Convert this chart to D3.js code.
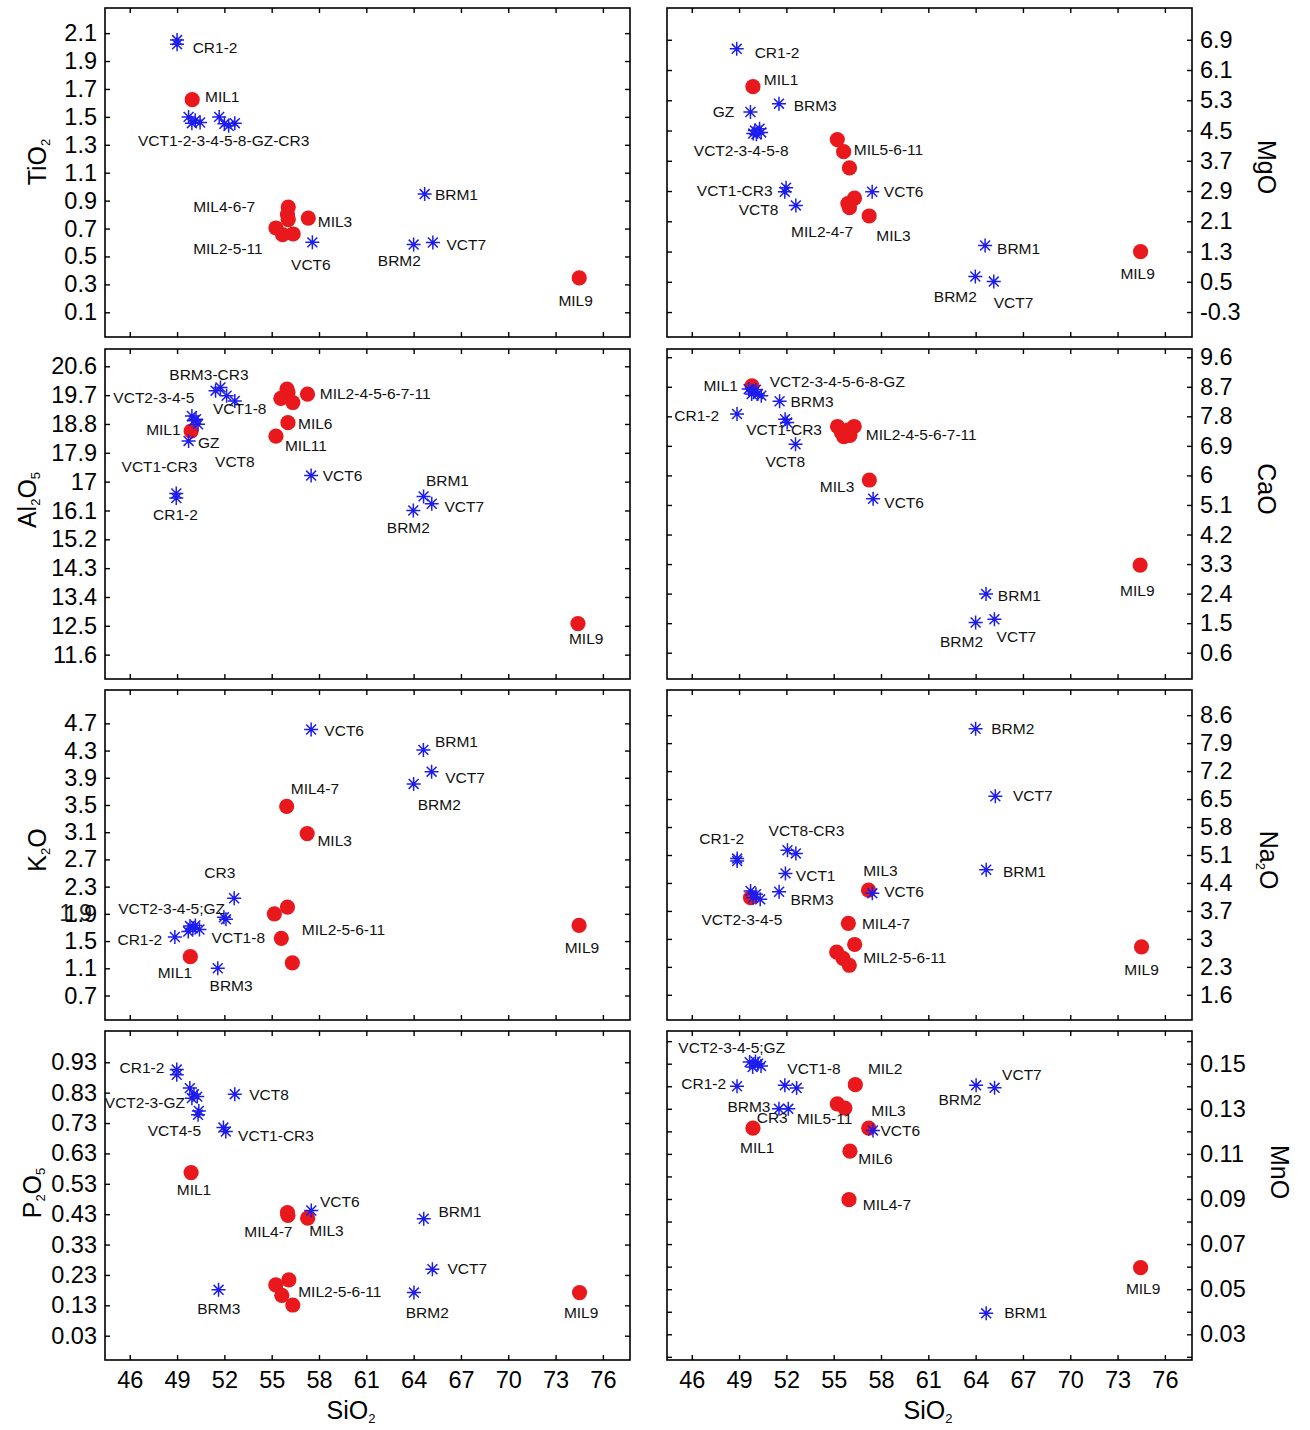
<!DOCTYPE html>
<html><head><meta charset="utf-8">
<script src="https://cdn.jsdelivr.net/npm/d3@7"></script>
<style>
body{margin:0;background:#fff}
svg{display:block}
text{font-family:"Liberation Sans",Arial,Helvetica,sans-serif}
</style>
</head><body>
<svg id="chart" width="1310" height="1430"></svg>
<script>
// ---------- shared x axis (SiO2) ----------
const sio2Domain = [44.43, 77.72];
const sio2Ticks = [46, 49, 52, 55, 58, 61, 64, 67, 70, 73, 76];

// ---------- TiO2 ----------
const tio2Domain = [-0.077, 2.28];
const tio2Ticks = [0.1, 0.3, 0.5, 0.7, 0.9, 1.1, 1.3, 1.5, 1.7, 1.9, 2.1];
const tio2Stars = [[49.0,2.05],[49.0,2.02],[49.73,1.50],[50.15,1.475],[50.46,1.46],[49.94,1.455],[51.67,1.50],[52.0,1.45],[52.66,1.455],[52.27,1.436],[64.7,0.947],[57.58,0.601],[64.0,0.585],[65.22,0.60]];
const tio2Dots = [[49.96,1.623],[56.05,0.854],[56.0,0.80],[56.05,0.764],[57.32,0.775],[55.27,0.704],[55.69,0.656],[56.36,0.661],[74.5,0.346]];
const tio2Labels = [["CR1-2",49.99,1.957],["MIL1",50.77,1.61],["VCT1-2-3-4-5-8-GZ-CR3",46.52,1.289],["BRM1",65.35,0.907],["MIL4-6-7",50.02,0.816],["MIL3",57.92,0.711],["MIL2-5-11",50.02,0.518],["VCT7",66.08,0.549],["BRM2",61.73,0.429],["VCT6",56.23,0.40],["MIL9",73.18,0.148]];

// ---------- MgO ----------
const mgoDomain = [-0.96, 7.74];
const mgoTicks = [-0.3, 0.5, 1.3, 2.1, 2.9, 3.7, 4.5, 5.3, 6.1, 6.9];
const mgoStars = [[48.85,6.66],[49.72,4.99],[51.53,5.21],[50.0,4.50],[50.3,4.55],[50.1,4.40],[49.9,4.42],[50.4,4.45],[51.98,2.99],[51.9,2.88],[52.6,2.52],[57.44,2.88],[64.6,1.46],[63.98,0.64],[65.15,0.505]];
const mgoDots = [[49.88,5.66],[55.23,4.26],[55.63,3.94],[56.0,3.51],[56.32,2.71],[55.9,2.57],[56.0,2.46],[57.25,2.24],[74.46,1.3]];
const mgoLabels = [["CR1-2",49.99,6.43],["MIL1",50.57,5.70],["BRM3",52.46,5.01],["GZ",47.33,4.86],["VCT2-3-4-5-8",46.13,3.82],["MIL5-6-11",56.27,3.84],["VCT1-CR3",46.32,2.77],["VCT6",58.18,2.73],["VCT8",48.98,2.26],["MIL2-4-7",52.3,1.69],["MIL3",57.7,1.57],["BRM1",65.36,1.24],["MIL9",73.18,0.57],["BRM2",61.35,-0.03],["VCT7",65.15,-0.20]];

// ---------- Al2O5 ----------
const al2o5Domain = [10.84, 21.14];
const al2o5Ticks = [11.6, 12.5, 13.4, 14.3, 15.2, 16.1, 17, 17.9, 18.8, 19.7, 20.6];
const al2o5Stars = [[51.75,19.94],[51.44,19.84],[52.14,19.68],[52.66,19.52],[49.94,19.05],[50.2,18.95],[50.33,18.79],[50.07,18.9],[49.73,18.27],[48.95,16.63],[48.95,16.49],[57.5,17.19],[64.63,16.54],[65.15,16.31],[63.98,16.1]];
const al2o5Dots = [[55.97,19.89],[56.03,19.78],[55.58,19.6],[56.34,19.47],[57.27,19.73],[56.03,18.84],[55.27,18.42],[49.89,18.58],[74.42,12.57]];
const al2o5Labels = [["BRM3-CR3",48.51,20.18],["VCT2-3-4-5",44.96,19.45],["MIL2-4-5-6-7-11",58.05,19.57],["VCT1-8",51.28,19.10],["MIL6",56.67,18.65],["MIL1",47.04,18.45],["GZ",50.33,18.06],["MIL11",55.84,17.95],["VCT1-CR3",45.48,17.29],["VCT8",51.41,17.46],["VCT6",58.23,17.01],["BRM1",64.78,16.86],["VCT7",65.95,16.04],["CR1-2",47.48,15.81],["BRM2",62.3,15.41],["MIL9",73.85,11.92]];

// ---------- CaO ----------
const caoDomain = [-0.2, 9.85];
const caoTicks = [0.6, 1.5, 2.4, 3.3, 4.2, 5.1, 6, 6.9, 7.8, 8.7, 9.6];
const caoStars = [[49.61,8.63],[49.93,8.55],[50.19,8.48],[50.41,8.43],[49.8,8.48],[50.06,8.61],[51.57,8.26],[48.87,7.87],[51.92,7.71],[52.05,7.61],[52.58,6.95],[57.5,5.29],[64.66,2.39],[64.0,1.52],[65.19,1.62]];
const caoDots = [[49.82,8.73],[55.24,7.49],[56.3,7.49],[55.64,7.18],[56.03,7.22],[55.9,7.38],[55.5,7.3],[57.26,5.86],[74.43,3.27]];
const caoLabels = [["MIL1",46.74,8.58],["VCT2-3-4-5-6-8-GZ",50.94,8.68],["BRM3",52.26,8.07],["CR1-2",44.89,7.66],["VCT1-CR3",49.45,7.24],["MIL2-4-5-6-7-11",57.04,7.08],["VCT8",50.67,6.27],["MIL3",54.12,5.49],["VCT6",58.21,5.01],["BRM1",65.41,2.19],["MIL9",73.16,2.33],["VCT7",65.33,0.94],["BRM2",61.74,0.76]];

// ---------- K2O ----------
const k2oDomain = [0.34, 5.19];
const k2oTicks = [0.7, 1.1, 1.5, 1.9, 2.3, 2.7, 3.1, 3.5, 3.9, 4.3, 4.7];
const k2oGhostTicks = [1.9];
const k2oStars = [[57.5,4.61],[64.62,4.31],[65.14,3.99],[64.0,3.81],[52.62,2.13],[51.97,1.85],[52.1,1.82],[49.82,1.72],[50.16,1.73],[50.42,1.67],[49.71,1.64],[50.0,1.69],[48.86,1.56],[51.58,1.1]];
const k2oDots = [[55.95,3.48],[57.25,3.08],[56.0,2.0],[55.17,1.9],[55.61,1.54],[56.31,1.18],[49.84,1.27],[74.49,1.73]];
const k2oLabels = [["VCT6",58.34,4.51],["BRM1",65.35,4.35],["VCT7",66.0,3.83],["MIL4-7",56.21,3.66],["BRM2",64.26,3.43],["MIL3",57.9,2.89],["CR3",50.73,2.42],["VCT2-3-4-5;GZ",45.27,1.90],["MIL2-5-6-11",56.91,1.59],["CR1-2",45.22,1.44],["VCT1-8",51.19,1.47],["MIL1",47.77,0.95],["BRM3",51.06,0.77],["MIL9",73.58,1.33]];

// ---------- Na2O ----------
const na2oDomain = [0.97, 9.23];
const na2oTicks = [1.6, 2.3, 3, 3.7, 4.4, 5.1, 5.8, 6.5, 7.2, 7.9, 8.6];
const na2oStars = [[64.0,8.26],[65.25,6.57],[64.67,4.73],[48.88,5.01],[48.88,4.95],[52.07,5.22],[52.6,5.14],[51.94,4.64],[51.54,4.18],[49.73,4.2],[50.07,4.12],[50.34,3.99],[49.89,4.03],[57.45,4.14]];
const na2oDots = [[57.21,4.22],[49.73,4.03],[55.93,3.39],[56.33,2.86],[55.19,2.67],[55.59,2.51],[55.99,2.34],[74.52,2.8]];
const na2oLabels = [["BRM2",64.99,8.12],["VCT7",66.37,6.45],["CR1-2",46.48,5.37],["VCT8-CR3",50.87,5.57],["VCT1",52.6,4.45],["BRM1",65.73,4.55],["MIL3",56.87,4.58],["VCT6",58.2,4.05],["BRM3",52.26,3.85],["VCT2-3-4-5",46.61,3.34],["MIL4-7",56.79,3.24],["MIL2-5-6-11",56.87,2.40],["MIL9",73.43,2.09]];

// ---------- P2O5 ----------
const p2o5Domain = [-0.05, 1.033];
const p2o5Ticks = [0.03, 0.13, 0.23, 0.33, 0.43, 0.53, 0.63, 0.73, 0.83, 0.93];
const p2o5Stars = [[48.98,0.906],[48.98,0.889],[49.81,0.845],[50.07,0.825],[50.28,0.817],[49.94,0.812],[50.38,0.77],[50.33,0.757],[52.66,0.825],[51.94,0.715],[52.09,0.702],[57.51,0.442],[64.64,0.415],[65.19,0.249],[51.63,0.181],[64.02,0.172]];
const p2o5Dots = [[49.89,0.567],[56.03,0.426],[56.0,0.435],[57.28,0.417],[56.09,0.214],[55.26,0.197],[55.64,0.163],[56.34,0.131],[74.52,0.172]];
const p2o5Labels = [["CR1-2",45.35,0.895],["VCT2-3-GZ",44.42,0.781],["VCT8",53.57,0.806],["VCT4-5",47.14,0.688],["VCT1-CR3",52.87,0.671],["MIL1",48.98,0.494],["VCT6",58.06,0.453],["BRM1",65.57,0.42],["MIL4-7",53.26,0.354],["MIL3",57.38,0.359],["VCT7",66.14,0.232],["MIL2-5-6-11",56.68,0.158],["BRM3",50.28,0.103],["BRM2",63.5,0.089],["MIL9",73.53,0.089]];

// ---------- MnO ----------
const mnoDomain = [0.0186, 0.1645];
const mnoTicks = [0.02, 0.03, 0.04, 0.05, 0.06, 0.07, 0.08, 0.09, 0.10, 0.11, 0.12, 0.13, 0.14, 0.15, 0.16];
const mnoTickLabels = [0.03, 0.05, 0.07, 0.09, 0.11, 0.13, 0.15];
const mnoStars = [[49.67,0.1507],[50.04,0.151],[50.39,0.149],[49.86,0.1485],[50.2,0.15],[48.87,0.14],[51.9,0.1404],[52.65,0.1392],[51.53,0.13],[52.12,0.13],[57.49,0.1204],[64.03,0.1404],[65.2,0.1393],[64.67,0.0393]];
const mnoDots = [[56.37,0.1407],[55.23,0.1322],[55.71,0.1303],[57.22,0.1214],[49.88,0.1214],[56.03,0.1112],[55.97,0.0897],[74.46,0.0596]];
const mnoLabels = [["VCT2-3-4-5;GZ",45.15,0.1547],["VCT1-8",52.06,0.1456],["MIL2",57.17,0.1456],["CR1-2",45.34,0.1389],["VCT7",65.68,0.1426],["BRM2",61.64,0.1315],["BRM3",48.26,0.1285],["MIL3",57.38,0.127],["CR3",50.12,0.1236],["MIL5-11",52.65,0.1233],["VCT6",57.97,0.1179],["MIL1",49.06,0.1104],["MIL6",56.56,0.1056],["MIL4-7",56.85,0.0853],["MIL9",73.53,0.0478],["BRM1",65.81,0.0374]];

// ---------- layout ----------
const cols = [[105, 630], [667, 1192]];
const rows = [[8, 337], [349, 679], [690, 1020], [1031, 1360]];
const RED = "#e8181c", BLUE = "#1c1cec";

const panels = [
  {col:0,row:0,domain:tio2Domain,ticks:tio2Ticks,labelsAt:tio2Ticks,stars:tio2Stars,dots:tio2Dots,labels:tio2Labels,title:[["TiO",0],["2",1]],tx:46,ty:162},
  {col:1,row:0,domain:mgoDomain,ticks:mgoTicks,labelsAt:mgoTicks,stars:mgoStars,dots:mgoDots,labels:mgoLabels,title:[["MgO",0]],tx:1258,ty:167},
  {col:0,row:1,domain:al2o5Domain,ticks:al2o5Ticks,labelsAt:al2o5Ticks,stars:al2o5Stars,dots:al2o5Dots,labels:al2o5Labels,title:[["Al",0],["2",1],["O",0],["5",1]],tx:36,ty:500},
  {col:1,row:1,domain:caoDomain,ticks:caoTicks,labelsAt:caoTicks,stars:caoStars,dots:caoDots,labels:caoLabels,title:[["CaO",0]],tx:1258,ty:489},
  {col:0,row:2,domain:k2oDomain,ticks:k2oTicks,labelsAt:k2oTicks,ghost:k2oGhostTicks,stars:k2oStars,dots:k2oDots,labels:k2oLabels,title:[["K",0],["2",1],["O",0]],tx:46,ty:850},
  {col:1,row:2,domain:na2oDomain,ticks:na2oTicks,labelsAt:na2oTicks,stars:na2oStars,dots:na2oDots,labels:na2oLabels,title:[["Na",0],["2",1],["O",0]],tx:1260,ty:860},
  {col:0,row:3,domain:p2o5Domain,ticks:p2o5Ticks,labelsAt:p2o5Ticks,stars:p2o5Stars,dots:p2o5Dots,labels:p2o5Labels,title:[["P",0],["2",1],["O",0],["5",1]],tx:41,ty:1193},
  {col:1,row:3,domain:mnoDomain,ticks:mnoTicks,labelsAt:mnoTickLabels,stars:mnoStars,dots:mnoDots,labels:mnoLabels,title:[["MnO",0]],tx:1271,ty:1172}
];

const svg = d3.select("#chart");
svg.append("rect").attr("width",1310).attr("height",1430).attr("fill","#fff");

const r = 7, a = r * 0.7071;
const starPath = `M${-r},0L${r},0M0,${-r}L0,${r}M${-a},${-a}L${a},${a}M${-a},${a}L${a},${-a}`;

function addTitle(g, parts, tx, ty, rot) {
  const t = g.append("text")
    .attr("transform", `translate(${tx},${ty}) rotate(${rot})`)
    .attr("text-anchor", "middle").attr("font-size", 25).attr("fill", "#000");
  let prevSub = false;
  parts.forEach(([s, sub]) => {
    const ts = t.append("tspan").text(s);
    if (sub) { ts.attr("font-size", 13).attr("dy", prevSub ? 0 : 4); }
    else if (prevSub) { ts.attr("dy", -4); }
    prevSub = !!sub;
  });
}

panels.forEach(p => {
  const [x0, x1] = cols[p.col];
  const [y0, y1] = rows[p.row];
  const x = d3.scaleLinear().domain(sio2Domain).range([x0, x1]);
  const y = d3.scaleLinear().domain(p.domain).range([y1, y0]);
  const g = svg.append("g");

  const bottomRow = p.row === 3;
  g.append("g").attr("transform", `translate(0,${y1})`)
    .call(d3.axisBottom(x).tickValues(sio2Ticks).tickSize(-5).tickPadding(11)
      .tickFormat(bottomRow ? (d => String(d)) : () => ""));
  g.append("g").attr("transform", `translate(0,${y0})`)
    .call(d3.axisTop(x).tickValues(sio2Ticks).tickSize(-5).tickFormat(() => ""));
  const left = p.col === 0;
  const lblSet = new Set(p.labelsAt.map(v => +v.toFixed(4)));
  const fmt = d => lblSet.has(+d.toFixed(4)) ? String(d) : "";
  g.append("g").attr("transform", `translate(${x0},0)`)
    .call(d3.axisLeft(y).tickValues(p.ticks).tickSize(-5).tickPadding(8)
      .tickFormat(left ? fmt : () => ""));
  g.append("g").attr("transform", `translate(${x1},0)`)
    .call(d3.axisRight(y).tickValues(p.ticks).tickSize(-5).tickPadding(8)
      .tickFormat(left ? () => "" : fmt));
  g.selectAll(".domain").remove();
  g.selectAll(".tick line").attr("stroke", "#000").attr("stroke-width", 1.4);
  g.selectAll(".tick text").attr("font-size", 23.5).attr("fill", "#000")
    .attr("font-family", '"Liberation Sans",Arial,sans-serif');

  if (p.ghost) {
    g.append("g").selectAll("text").data(p.ghost).join("text")
      .attr("x", x0 - 13).attr("y", d => y(d)).attr("dy", "0.32em")
      .attr("text-anchor", "end").attr("font-size", 23.5).attr("fill", "#000")
      .attr("opacity", 0.85).text(d => String(d));
  }

  g.append("rect").attr("x", x0).attr("y", y0).attr("width", x1 - x0).attr("height", y1 - y0)
    .attr("fill", "none").attr("stroke", "#000").attr("stroke-width", 1.6);

  g.append("g").selectAll("circle").data(p.dots).join("circle")
    .attr("cx", d => x(d[0])).attr("cy", d => y(d[1])).attr("r", 7.6).attr("fill", RED);
  g.append("g").selectAll("path").data(p.stars).join("path")
    .attr("d", starPath).attr("transform", d => `translate(${x(d[0])},${y(d[1])})`)
    .attr("stroke", BLUE).attr("stroke-width", 1.5).attr("fill", "none");

  g.append("g").selectAll("text").data(p.labels).join("text")
    .attr("x", d => x(d[1])).attr("y", d => y(d[2]))
    .attr("font-size", 15.5).attr("fill", "#111").text(d => d[0]);

  addTitle(g, p.title, p.tx, p.ty, left ? -90 : 90);
  if (bottomRow) {
    const cx = left ? 351 : 928;
    const t = g.append("text").attr("x", cx).attr("y", 1419).attr("text-anchor", "middle")
      .attr("font-size", 25).attr("fill", "#000");
    t.append("tspan").text("SiO");
    t.append("tspan").text("2").attr("font-size", 13).attr("dy", 4);
  }
});
</script>
</body></html>
